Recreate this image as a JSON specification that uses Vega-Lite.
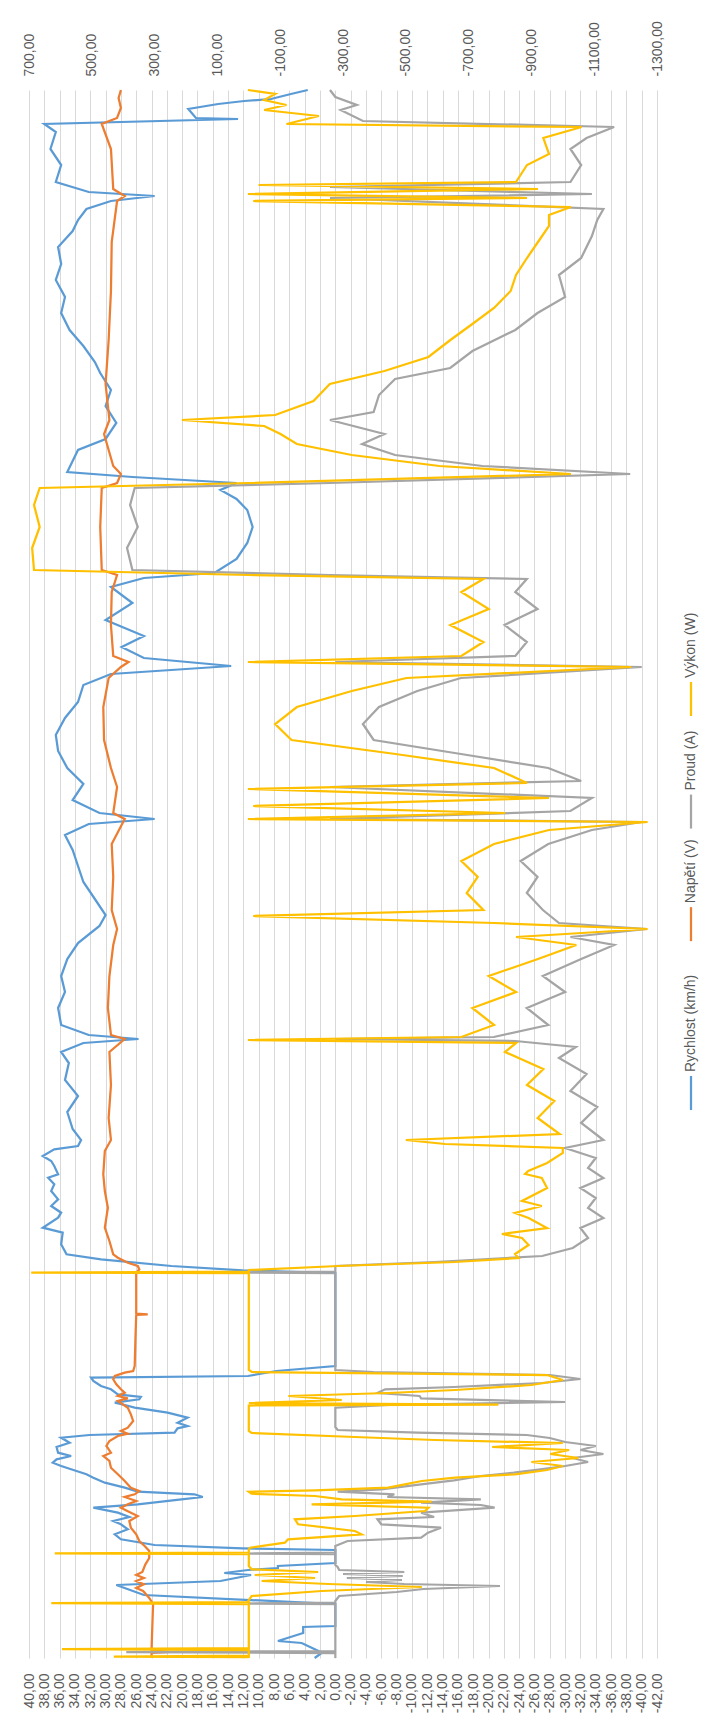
{
  "$schema": "https://vega.github.io/schema/vega-lite/v6.json",
  "padding": {"left": 21, "top": 20, "right": 0, "bottom": 0},
  "config": {
    "view": {"stroke": null},
    "font": "Liberation Sans",
    "concat": {"spacing": 24}
  },
  "bounds": "flush",
  "datasets": {
    "rychlost": [
      {"t":0,"v":2.7},{"t":5,"v":1.8},{"t":7,"v":2.2},{"t":15,"v":4.4},{"t":17,"v":7.5},{"t":25,"v":4.2},{"t":31,"v":4.2},{"t":32,"v":0},{"t":54,"v":0},{"t":63,"v":25},{"t":73,"v":28.6},{"t":77,"v":15},{"t":83,"v":11},{"t":85,"v":14.5},{"t":88,"v":11.4},{"t":90,"v":7.5},{"t":92,"v":7.5},{"t":95,"v":0},{"t":108,"v":0},
      {"t":109.7,"v":12.1},{"t":113,"v":23.6},{"t":118.7,"v":28},{"t":123.7,"v":28.8},{"t":128.7,"v":27.1},{"t":133.7,"v":28},{"t":137,"v":29},{"t":141,"v":26.9},{"t":145.3,"v":28.4},{"t":150.3,"v":31.6},{"t":153.7,"v":25.8},{"t":158.7,"v":20.1},{"t":161,"v":17.3},{"t":163.7,"v":18.4},{"t":166.3,"v":25.8},{"t":170.3,"v":27.5},{"t":175.3,"v":30.1},{"t":180.3,"v":31.6},{"t":183.7,"v":32.5},{"t":187,"v":33.8},{"t":192,"v":35.8},{"t":195.3,"v":36.9},{"t":198.7,"v":36.4},{"t":202,"v":34.5},{"t":205.3,"v":36.2},{"t":211,"v":36.4},{"t":215.3,"v":34.7},{"t":220.3,"v":35.8},{"t":223,"v":32.1},{"t":225.3,"v":21},{"t":229.7,"v":20.6},{"t":232,"v":19.3},{"t":235.3,"v":20.6},{"t":240.3,"v":19.3},{"t":245.3,"v":21.9},{"t":250.3,"v":26.2},{"t":253,"v":27.5},{"t":255.3,"v":28.8},{"t":258.7,"v":25.6},{"t":261,"v":25.4},{"t":263.7,"v":28.4},{"t":268.7,"v":29.3},{"t":272,"v":30.6},{"t":277,"v":31.6},{"t":280.3,"v":31.9},{"t":282,"v":11.4},{"t":287,"v":7.7},{"t":292,"v":0},{"t":385,"v":0},
      {"t":387.7,"v":12.1},{"t":392,"v":21.4},{"t":398.7,"v":30.6},{"t":403.7,"v":35.1},{"t":413.7,"v":35.8},{"t":425.3,"v":35.6},{"t":430.3,"v":38.2},{"t":440.3,"v":36.2},{"t":445.3,"v":35.8},{"t":452,"v":37.1},{"t":458.7,"v":36.2},{"t":467,"v":37.1},{"t":473.7,"v":36.7},{"t":480.3,"v":37.5},{"t":483.7,"v":36.2},{"t":492,"v":36.7},{"t":497,"v":37.1},{"t":502,"v":38.2},{"t":508.7,"v":36.7},{"t":512,"v":33.6},{"t":518,"v":33.2},
      {"t":529,"v":34.3},{"t":546,"v":35},{"t":562,"v":33.6},{"t":578,"v":35.3},{"t":595,"v":34.8},{"t":606,"v":35.8},{"t":615,"v":32.9},{"t":619,"v":25.7},{"t":623,"v":32.2},{"t":633,"v":35.8},{"t":650,"v":36.2},{"t":666,"v":35.3},{"t":682,"v":35.8},{"t":699,"v":35},{"t":715,"v":33.6},{"t":732,"v":30.8},{"t":743,"v":30},{"t":759,"v":31.4},{"t":776,"v":32.9},{"t":792,"v":33.6},{"t":808,"v":34.3},{"t":823,"v":35.3},{"t":834,"v":32.2},{"t":839,"v":23.6},{"t":845,"v":30.8},{"t":858,"v":34.3},{"t":874,"v":32.9},{"t":890,"v":35},{"t":907,"v":36.2},{"t":923,"v":36.5},{"t":940,"v":35.3},{"t":956,"v":33.6},{"t":973,"v":32.9},{"t":984,"v":29.3},{"t":992,"v":13.6},{"t":1000,"v":25},{"t":1011,"v":27.9},{"t":1022,"v":25},{"t":1038,"v":30},{"t":1055,"v":26.5},{"t":1071,"v":29.3},{"t":1080,"v":25},{"t":1085,"v":15.8},{"t":1099,"v":12.9},{"t":1115,"v":11.5},{"t":1131,"v":10.8},{"t":1148,"v":11.5},{"t":1159,"v":12.9},{"t":1168,"v":15},{"t":1175,"v":12.9},{"t":1181,"v":26.5},{"t":1186,"v":35},{"t":1197,"v":34.3},{"t":1208,"v":33.6},{"t":1219,"v":30},{"t":1235,"v":28.6},{"t":1252,"v":30},{"t":1268,"v":29.3},{"t":1285,"v":30.7},{"t":1296,"v":31.4},{"t":1312,"v":32.9},{"t":1328,"v":34.7},{"t":1345,"v":35.8},{"t":1361,"v":35.3},{"t":1378,"v":36.5},{"t":1394,"v":35.8},{"t":1411,"v":36.2},{"t":1427,"v":34.3},{"t":1438,"v":33.6},{"t":1449,"v":32.5},{"t":1457,"v":29.3},{"t":1462,"v":23.6},{"t":1466,"v":32.2},{"t":1476,"v":36.5},{"t":1493,"v":35.8},{"t":1509,"v":37.2},{"t":1526,"v":36.5},{"t":1534,"v":38},{"t":1539,"v":12.7},{"t":1540,"v":18.2},{"t":1549,"v":19.2},{"t":1554,"v":15.3},{"t":1557,"v":11.9},{"t":1559,"v":8.4},{"t":1564,"v":5.8},{"t":1568,"v":3.6}
    ],
    "napeti": [
      {"t":0,"v":24},{"t":5,"v":24},{"t":6,"v":21.5},{"t":8,"v":24},{"t":54,"v":23.8},{"t":60,"v":24.3},{"t":67,"v":25.1},{"t":70,"v":26},{"t":73.7,"v":25},{"t":77,"v":26},{"t":80,"v":25},{"t":83,"v":26},{"t":86,"v":25.2},{"t":93.7,"v":24.8},{"t":100,"v":24.3},{"t":107,"v":24.3},
      {"t":112,"v":24.9},{"t":117,"v":25.6},{"t":123.7,"v":26},{"t":130.3,"v":26.7},{"t":137,"v":26.9},{"t":142,"v":25.8},{"t":145.3,"v":26.7},{"t":150.3,"v":28},{"t":153.7,"v":27.1},{"t":157,"v":26},{"t":161,"v":27.5},{"t":163.7,"v":26.2},{"t":167,"v":25.6},{"t":170.3,"v":26.7},{"t":177,"v":27.5},{"t":183.7,"v":28.4},{"t":190.3,"v":29.3},{"t":197,"v":29.5},{"t":202,"v":30.3},{"t":205.3,"v":29.3},{"t":212,"v":29.9},{"t":217,"v":29.5},{"t":222,"v":28.4},{"t":224.3,"v":27.1},{"t":227,"v":28},{"t":230.3,"v":27.1},{"t":237,"v":26.4},{"t":243.7,"v":26.7},{"t":250.3,"v":27.1},{"t":257,"v":28.4},{"t":259.7,"v":27.1},{"t":262,"v":28.4},{"t":265.3,"v":27.5},{"t":268.7,"v":28},{"t":273.7,"v":28.6},{"t":278.7,"v":29},{"t":282,"v":28.8},{"t":285.3,"v":27.5},{"t":287,"v":26.4},{"t":292,"v":26.2},{"t":320,"v":26.1},{"t":343,"v":26},{"t":343.7,"v":24.5},{"t":344.5,"v":26},{"t":385,"v":26},
      {"t":388.7,"v":25.6},{"t":392,"v":25.8},{"t":395.3,"v":27.1},{"t":400.3,"v":28.4},{"t":403.7,"v":29},{"t":417,"v":29.5},{"t":430.3,"v":30.1},{"t":450.3,"v":29.7},{"t":467,"v":30.1},{"t":483.7,"v":30.3},{"t":507,"v":30.1},{"t":518,"v":29.3},
      {"t":540,"v":29.6},{"t":573,"v":29.3},{"t":606,"v":29.5},{"t":619,"v":27.5},{"t":623,"v":29.3},{"t":650,"v":29.7},{"t":682,"v":29.5},{"t":713,"v":29},{"t":729,"v":28.5},{"t":748,"v":29.2},{"t":781,"v":29},{"t":814,"v":29.2},{"t":839,"v":27.5},{"t":845,"v":29},{"t":871,"v":28.5},{"t":890,"v":29.3},{"t":918,"v":30.2},{"t":951,"v":30.3},{"t":980,"v":29.6},{"t":991,"v":28},{"t":996,"v":27},{"t":1002,"v":29},{"t":1033,"v":29.3},{"t":1066,"v":29.2},{"t":1083,"v":28.5},{"t":1088,"v":30.5},{"t":1131,"v":30.7},{"t":1170,"v":30.5},{"t":1175,"v":28.5},{"t":1184,"v":28},{"t":1192,"v":29},{"t":1224,"v":30.2},{"t":1238,"v":29.5},{"t":1274,"v":30},{"t":1318,"v":29.6},{"t":1367,"v":29.3},{"t":1416,"v":29.2},{"t":1457,"v":28.5},{"t":1462,"v":27.5},{"t":1469,"v":29},{"t":1509,"v":29.3},{"t":1534,"v":30.5},{"t":1540,"v":28.5},{"t":1550,"v":28},{"t":1560,"v":28.3},{"t":1568,"v":28}
    ],
    "proud": [
      {"t":0,"v":0},{"t":5,"v":0},{"t":6,"v":27.3},{"t":7,"v":0},{"t":54,"v":0},{"t":54.5,"v":11.4},{"t":55.5,"v":0},{"t":57,"v":0},{"t":62,"v":-0.5},{"t":66,"v":-8},{"t":69,"v":-11.5},{"t":72,"v":-21.5},{"t":74,"v":-9},{"t":76,"v":-4},{"t":78,"v":-8.7},{"t":80,"v":-1.5},{"t":82,"v":-8.8},{"t":84,"v":-1},{"t":86,"v":-9},{"t":88,"v":-0.5},{"t":91,"v":-0.3},{"t":93,"v":0},{"t":104,"v":0},{"t":104.5,"v":11.4},{"t":105.5,"v":0},
      {"t":108.7,"v":0},{"t":112,"v":0},{"t":117,"v":-1.6},{"t":120.3,"v":-11.2},{"t":125.3,"v":-12.1},{"t":130.3,"v":-13.8},{"t":133.7,"v":-6},{"t":138.7,"v":-5.5},{"t":141,"v":-12.9},{"t":145.3,"v":-11.2},{"t":150.3,"v":-20.8},{"t":153,"v":-19},{"t":155.3,"v":-11.2},{"t":158.7,"v":-19},{"t":161,"v":-6.8},{"t":163.7,"v":-7.7},{"t":166.3,"v":-0.3},{"t":168.7,"v":-6},{"t":173.7,"v":-11.2},{"t":177.7,"v":-15.5},{"t":182,"v":-19},{"t":185.3,"v":-23.3},{"t":188.7,"v":-26.8},{"t":192,"v":-30},{"t":196,"v":-33},{"t":200,"v":-31},{"t":204,"v":-35},{"t":208,"v":-32},{"t":212,"v":-34},{"t":216,"v":-30},{"t":220,"v":-28},{"t":223,"v":-25},{"t":225.3,"v":-10.7},{"t":228,"v":-0.3},{"t":231,"v":0},{"t":250.3,"v":0},{"t":253,"v":-7},{"t":256,"v":-30},{"t":259.7,"v":-11.2},{"t":262,"v":-11},{"t":265,"v":-5.5},{"t":268.7,"v":-6.5},{"t":271,"v":-15.5},{"t":275,"v":-27},{"t":279,"v":-32},{"t":283,"v":-28},{"t":286,"v":-5},{"t":288,"v":0},{"t":385,"v":0},{"t":385.5,"v":11.4},{"t":386.5,"v":0},
      {"t":392,"v":0},{"t":396,"v":-13},{"t":402,"v":-27},{"t":410,"v":-31},{"t":420,"v":-33},{"t":430,"v":-32},{"t":440,"v":-35},{"t":450,"v":-33},{"t":460,"v":-34},{"t":470,"v":-32},{"t":480,"v":-35},{"t":490,"v":-33},{"t":500,"v":-34},{"t":510,"v":-30},{"t":518,"v":-35},
      {"t":535,"v":-32.1},{"t":551,"v":-34.2},{"t":567,"v":-30.7},{"t":584,"v":-32.8},{"t":600,"v":-29.2},{"t":611,"v":-31.4},{"t":617,"v":-23.5},{"t":619,"v":0},{"t":621,"v":-20.7},{"t":633,"v":-27.8},{"t":650,"v":-25},{"t":666,"v":-30},{"t":682,"v":-27.1},{"t":699,"v":-32.1},{"t":713,"v":-36.4},{"t":721,"v":-30.7},{"t":729,"v":-40.7},{"t":735,"v":-29.2},{"t":748,"v":-27.1},{"t":765,"v":-25},{"t":781,"v":-26.4},{"t":797,"v":-24.2},{"t":814,"v":-27.8},{"t":828,"v":-33.5},{"t":836,"v":-40},{"t":839,"v":0.7},{"t":847,"v":-30.7},{"t":860,"v":-33.5},{"t":871,"v":0.7},{"t":877,"v":-32.1},{"t":890,"v":-27.8},{"t":904,"v":-16.4},{"t":918,"v":-5},{"t":934,"v":-3.6},{"t":951,"v":-5.7},{"t":967,"v":-10.7},{"t":980,"v":-16.4},{"t":991,"v":-40},{"t":996,"v":0},{"t":1002,"v":-23.5},{"t":1016,"v":-25},{"t":1033,"v":-22.1},{"t":1049,"v":-26.4},{"t":1066,"v":-23.5},{"t":1079,"v":-25},{"t":1083,"v":0.7},{"t":1088,"v":26.5},{"t":1110,"v":27.2},{"t":1131,"v":25.8},{"t":1153,"v":26.8},{"t":1170,"v":26.2},{"t":1175,"v":0.7},{"t":1184,"v":-38.5},{"t":1192,"v":-19.2},{"t":1203,"v":-7.8},{"t":1214,"v":-3.5},{"t":1224,"v":-6.4},{"t":1238,"v":0.7},{"t":1246,"v":-5},{"t":1263,"v":-5.7},{"t":1279,"v":-7.8},{"t":1290,"v":-15},{"t":1307,"v":-17.9},{"t":1328,"v":-23.5},{"t":1345,"v":-26.4},{"t":1361,"v":-30},{"t":1383,"v":-29.2},{"t":1400,"v":-32.1},{"t":1422,"v":-33.5},{"t":1438,"v":-34.2},{"t":1449,"v":-35},{"t":1460,"v":0.7},{"t":1464,"v":-33.5},{"t":1471,"v":0.7},{"t":1476,"v":-30.7},{"t":1493,"v":-32.1},{"t":1509,"v":-30.7},{"t":1520,"v":-32.8},{"t":1531,"v":-36.4},{"t":1537,"v":-3.6},{"t":1548,"v":-0.7},{"t":1553,"v":-2.8},{"t":1561,"v":0},{"t":1568,"v":0.7}
    ],
    "vykon": [
      {"t":0,"v":0},{"t":1,"v":0},{"t":1.5,"v":430},{"t":2.5,"v":0},{"t":8,"v":0},{"t":9,"v":595},{"t":10,"v":0},{"t":54,"v":0},{"t":55,"v":629},{"t":56,"v":0},{"t":57,"v":2},{"t":62,"v":-9},{"t":67,"v":-232},{"t":71,"v":-551},{"t":74,"v":-253},{"t":77,"v":-41},{"t":80,"v":-211},{"t":83,"v":-19},{"t":86,"v":-221},{"t":88.7,"v":-9},{"t":92,"v":0},{"t":104,"v":0},{"t":104.7,"v":618},{"t":105.5,"v":0},
      {"t":108.7,"v":0},{"t":110.3,"v":-4},{"t":115.3,"v":-115},{"t":118.7,"v":-125},{"t":123.7,"v":-359},{"t":127,"v":-338},{"t":133.7,"v":-157},{"t":138.7,"v":-147},{"t":142,"v":-338},{"t":147,"v":-561},{"t":150.3,"v":-572},{"t":153.7,"v":-200},{"t":156.3,"v":-582},{"t":158.7,"v":-296},{"t":162,"v":-211},{"t":164.3,"v":-9},{"t":166.3,"v":0},{"t":167.7,"v":-211},{"t":170.3,"v":-444},{"t":173.7,"v":-497},{"t":177,"v":-551},{"t":180.3,"v":-657},{"t":183.7,"v":-848},{"t":188,"v":-950},{"t":192,"v":-1000},{"t":196,"v":-900},{"t":200,"v":-1050},{"t":204,"v":-960},{"t":208,"v":-1020},{"t":211,"v":-775},{"t":215,"v":-1000},{"t":218,"v":-593},{"t":221,"v":-338},{"t":225,"v":-9},{"t":227,"v":0},{"t":252.5,"v":0},{"t":253.5,"v":-795},{"t":255,"v":0},{"t":258,"v":-296},{"t":262,"v":-126},{"t":265,"v":-444},{"t":268,"v":-657},{"t":273,"v":-900},{"t":278,"v":-1000},{"t":283,"v":-950},{"t":286,"v":-10},{"t":288,"v":0},{"t":385,"v":0},{"t":385.5,"v":693},{"t":386.5,"v":0},
      {"t":388,"v":0},{"t":392,"v":-285},{"t":396,"v":-657},{"t":400,"v":-859},{"t":404,"v":-848},{"t":413,"v":-891},{"t":420,"v":-870},{"t":424,"v":-806},{"t":430,"v":-950},{"t":440,"v":-891},{"t":445,"v":-848},{"t":452,"v":-933},{"t":457,"v":-870},{"t":470,"v":-950},{"t":480,"v":-933},{"t":484,"v":-880},{"t":487,"v":-890},{"t":495,"v":-950},{"t":505,"v":-1000},{"t":510,"v":-1000},{"t":514,"v":-625},{"t":518,"v":-500},
      {"t":524,"v":-990},{"t":540,"v":-920},{"t":557,"v":-973},{"t":573,"v":-886},{"t":589,"v":-938},{"t":606,"v":-816},{"t":615,"v":-851},{"t":618,"v":3},{"t":621,"v":-677},{"t":633,"v":-781},{"t":650,"v":-712},{"t":666,"v":-851},{"t":682,"v":-764},{"t":699,"v":-921},{"t":713,"v":-1043},{"t":721,"v":-851},{"t":729,"v":-1270},{"t":735,"v":-781},{"t":742,"v":-14},{"t":748,"v":-747},{"t":765,"v":-694},{"t":781,"v":-729},{"t":797,"v":-677},{"t":814,"v":-781},{"t":828,"v":-956},{"t":836,"v":-1270},{"t":839,"v":3},{"t":845,"v":-816},{"t":852,"v":-14},{"t":860,"v":-956},{"t":869,"v":3},{"t":875,"v":-886},{"t":890,"v":-781},{"t":904,"v":-467},{"t":918,"v":-136},{"t":934,"v":-84},{"t":951,"v":-153},{"t":967,"v":-328},{"t":980,"v":-502},{"t":991,"v":-1218},{"t":996,"v":3},{"t":1002,"v":-677},{"t":1016,"v":-747},{"t":1033,"v":-642},{"t":1049,"v":-764},{"t":1066,"v":-677},{"t":1079,"v":-747},{"t":1083,"v":3},{"t":1088,"v":684},{"t":1110,"v":690},{"t":1131,"v":666},{"t":1153,"v":684},{"t":1170,"v":666},{"t":1175,"v":3},{"t":1184,"v":-1026},{"t":1192,"v":-607},{"t":1203,"v":-328},{"t":1214,"v":-153},{"t":1224,"v":-101},{"t":1232,"v":-49},{"t":1238,"v":213},{"t":1243,"v":-84},{"t":1257,"v":-206},{"t":1274,"v":-258},{"t":1287,"v":-432},{"t":1301,"v":-572},{"t":1318,"v":-642},{"t":1334,"v":-712},{"t":1350,"v":-781},{"t":1367,"v":-834},{"t":1383,"v":-851},{"t":1400,"v":-886},{"t":1416,"v":-921},{"t":1432,"v":-956},{"t":1443,"v":-956},{"t":1451,"v":-1026},{"t":1457,"v":-14},{"t":1460,"v":-886},{"t":1464,"v":3},{"t":1469,"v":-921},{"t":1473,"v":-31},{"t":1476,"v":-851},{"t":1493,"v":-886},{"t":1504,"v":-956},{"t":1520,"v":-938},{"t":1531,"v":-1060},{"t":1534,"v":-120},{"t":1542,"v":-223},{"t":1548,"v":-49},{"t":1553,"v":-120},{"t":1558,"v":-49},{"t":1564,"v":-84},{"t":1568,"v":3}
    ],
    "legenda": [
      {"series":"Rychlost (km/h)"},{"series":"Napětí (V)"},{"series":"Proud (A)"},{"series":"Výkon (W)"}
    ]
  },
  "hconcat": [
    {
      "width": 628,
      "height": 1568,
      "layer": [
        {
          "layer": [
            {
              "data": {"name": "rychlost"},
              "mark": {"type": "line", "color": "#5B9BD5", "strokeWidth": 2.25},
              "encoding": {
                "x": {"field": "v", "type": "quantitative",
                  "scale": {"domain": [-42, 40], "reverse": true, "nice": false, "zero": false},
                  "axis": {"orient": "bottom", "title": null, "values": [-42,-40,-38,-36,-34,-32,-30,-28,-26,-24,-22,-20,-18,-16,-14,-12,-10,-8,-6,-4,-2,0,2,4,6,8,10,12,14,16,18,20,22,24,26,28,30,32,34,36,38,40],
                    "labelExpr": "replace(replace(format(datum.value, '.2f'), '.', ','), '−', '-')",
                    "labelAngle": 270, "labelAlign": "right", "labelBaseline": "middle", "labelPadding": 15,
                    "labelFontSize": 14, "labelColor": "#595959", "labelOverlap": false, "labelFlush": false, "labelBound": false,
                    "ticks": false, "domain": false, "grid": true, "gridColor": "#d9d9d9", "gridWidth": 1}},
                "y": {"field": "t", "type": "quantitative", "scale": {"domain": [0, 1568], "nice": false, "zero": false}, "axis": null},
                "order": {"field": "t"}
              }
            },
            {
              "data": {"name": "napeti"},
              "mark": {"type": "line", "color": "#ED7D31", "strokeWidth": 2.25},
              "encoding": {
                "x": {"field": "v", "type": "quantitative",
                  "scale": {"domain": [-42, 40], "reverse": true, "nice": false, "zero": false},
                  "axis": {"orient": "bottom", "title": null, "values": [-42,-40,-38,-36,-34,-32,-30,-28,-26,-24,-22,-20,-18,-16,-14,-12,-10,-8,-6,-4,-2,0,2,4,6,8,10,12,14,16,18,20,22,24,26,28,30,32,34,36,38,40],
                    "labelExpr": "replace(replace(format(datum.value, '.2f'), '.', ','), '−', '-')",
                    "labelAngle": 270, "labelAlign": "right", "labelBaseline": "middle", "labelPadding": 15,
                    "labelFontSize": 14, "labelColor": "#595959", "labelOverlap": false, "labelFlush": false, "labelBound": false,
                    "ticks": false, "domain": false, "grid": true, "gridColor": "#d9d9d9", "gridWidth": 1}},
                "y": {"field": "t", "type": "quantitative", "scale": {"domain": [0, 1568], "nice": false, "zero": false}, "axis": null},
                "order": {"field": "t"}
              }
            },
            {
              "data": {"name": "proud"},
              "mark": {"type": "line", "color": "#A5A5A5", "strokeWidth": 2.25},
              "encoding": {
                "x": {"field": "v", "type": "quantitative",
                  "scale": {"domain": [-42, 40], "reverse": true, "nice": false, "zero": false},
                  "axis": {"orient": "bottom", "title": null, "values": [-42,-40,-38,-36,-34,-32,-30,-28,-26,-24,-22,-20,-18,-16,-14,-12,-10,-8,-6,-4,-2,0,2,4,6,8,10,12,14,16,18,20,22,24,26,28,30,32,34,36,38,40],
                    "labelExpr": "replace(replace(format(datum.value, '.2f'), '.', ','), '−', '-')",
                    "labelAngle": 270, "labelAlign": "right", "labelBaseline": "middle", "labelPadding": 15,
                    "labelFontSize": 14, "labelColor": "#595959", "labelOverlap": false, "labelFlush": false, "labelBound": false,
                    "ticks": false, "domain": false, "grid": true, "gridColor": "#d9d9d9", "gridWidth": 1}},
                "y": {"field": "t", "type": "quantitative", "scale": {"domain": [0, 1568], "nice": false, "zero": false}, "axis": null},
                "order": {"field": "t"}
              }
            }
          ]
        },
        {
          "data": {"name": "vykon"},
          "mark": {"type": "line", "color": "#FFC000", "strokeWidth": 2.25},
          "encoding": {
            "x": {"field": "v", "type": "quantitative",
              "scale": {"domain": [-1300, 700], "reverse": true, "nice": false, "zero": false},
              "axis": {"orient": "top", "title": null, "values": [-1300,-1100,-900,-700,-500,-300,-100,100,300,500,700],
                "labelExpr": "replace(replace(format(datum.value, '.2f'), '.', ','), '−', '-')",
                "labelAngle": 270, "labelAlign": "left", "labelBaseline": "middle", "labelPadding": 14,
                "labelFontSize": 14, "labelColor": "#595959", "labelOverlap": false, "labelFlush": false, "labelBound": false,
                "ticks": false, "domain": false, "grid": false}},
            "y": {"field": "t", "type": "quantitative", "scale": {"domain": [0, 1568], "nice": false, "zero": false}, "axis": null},
            "order": {"field": "t"}
          }
        }
      ],
      "resolve": {"scale": {"x": "independent"}, "axis": {"x": "independent"}}
    },
    {
      "width": 20,
      "height": 1568,
      "data": {"name": "legenda"},
      "encoding": {
        "x": {"datum": 0, "type": "quantitative", "scale": {"domain": [-1, 1]}, "axis": null},
        "y": {"field": "series", "type": "nominal",
          "scale": {"type": "point", "domain": ["Výkon (W)", "·1", "Proud (A)", "·2", "Napětí (V)", "·3", "·4", "Rychlost (km/h)"], "range": [588, 982], "padding": 0},
          "axis": null}
      },
      "layer": [
        {
          "mark": {"type": "rule", "strokeWidth": 2.25, "yOffset": 4, "y2Offset": 38},
          "encoding": {
            "y2": {"field": "series"},
            "color": {"field": "series", "type": "nominal",
              "scale": {"domain": ["Rychlost (km/h)", "Napětí (V)", "Proud (A)", "Výkon (W)"], "range": ["#5B9BD5", "#ED7D31", "#A5A5A5", "#FFC000"]},
              "legend": null}
          }
        },
        {
          "mark": {"type": "text", "angle": 270, "align": "left", "baseline": "middle", "fontSize": 14, "color": "#595959"},
          "encoding": {"text": {"field": "series"}}
        }
      ]
    }
  ]
}
